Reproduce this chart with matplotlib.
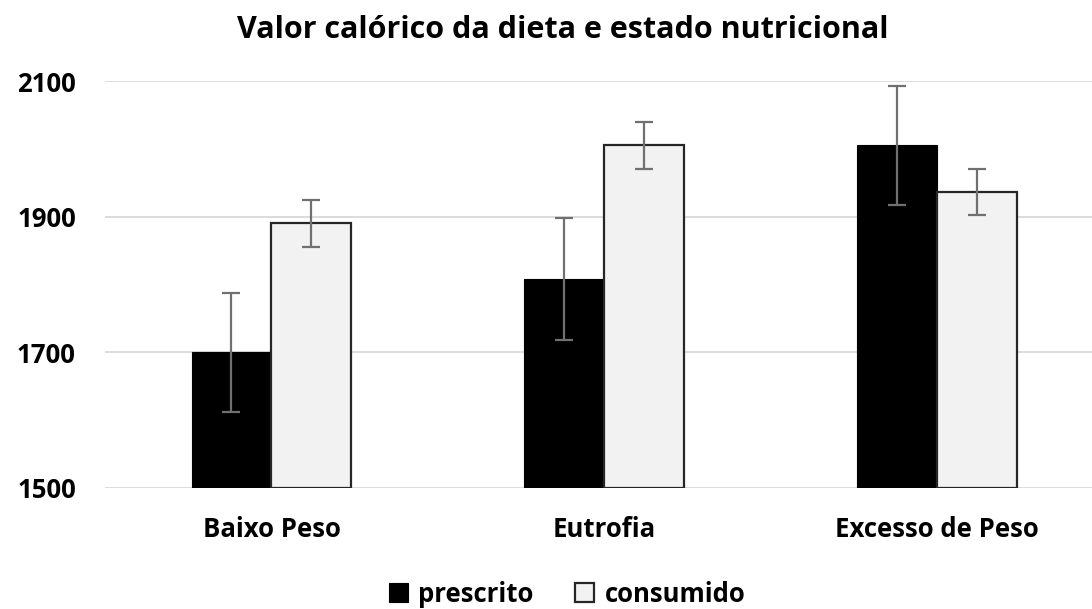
import numpy as np
import matplotlib
matplotlib.use("Agg")
import matplotlib.pyplot as plt

plt.rcParams['font.family'] = ['Open Sans', 'DejaVu Sans']
plt.rcParams['font.weight'] = 'bold'

#data
categorias = ["Baixo Peso", "Eutrofia", "Excesso de Peso"]
prescrito = [1700, 1808, 2005]
prescrito_err = [88, 90, 88]
consumido = [1890, 2005, 1937]
consumido_err = [34, 34, 34]

x = np.arange(len(categorias))
w = 0.24

fig = plt.figure(figsize=(10.92, 6.09), dpi=100)
ax = fig.add_axes([105 / 1092, 121 / 609, 1 - 105 / 1092, (488 - 81) / 609])

err_kw = dict(ecolor="#707070", elinewidth=1.6, capsize=6.5, capthick=1.6)
ax.bar(x - w / 2, [p - 1500 for p in prescrito], w, bottom=1500, color="black",
       edgecolor="black", linewidth=0.8, yerr=prescrito_err, error_kw=err_kw,
       label="prescrito", zorder=3)
ax.bar(x + w / 2, [c - 1500 for c in consumido], w, bottom=1500, color="#f2f2f2",
       edgecolor="#262626", linewidth=1.6, yerr=consumido_err, error_kw=err_kw,
       label="consumido", zorder=3)

ax.set_ylim(1500, 2100)
ax.set_xlim(-0.5, 2.465)
ax.set_yticks([1500, 1700, 1900, 2100])
ax.set_xticks(x)
ax.set_xticklabels(categorias)
ax.yaxis.grid(True, color="#d9d9d9", linewidth=1.3, zorder=0)
ax.set_axisbelow(True)
for s in ax.spines.values():
    s.set_visible(False)
ax.tick_params(axis="both", length=0, labelsize=18.5, colors="black")
ax.tick_params(axis="y", pad=21)
ax.tick_params(axis="x", pad=20)

fig.text(0.515, 1 - 30 / 609, "Valor calórico da dieta e estado nutricional",
         ha="center", va="center", fontsize=22, fontweight="bold")

leg = fig.legend(loc="center", bbox_to_anchor=(567 / 1092, 1 - 594 / 609), ncol=2,
                 frameon=False, fontsize=18.5, handlelength=0.75, handleheight=0.75,
                 columnspacing=1.6, handletextpad=0.4)

plt.savefig("out.png", dpi=100)
plt.close()
